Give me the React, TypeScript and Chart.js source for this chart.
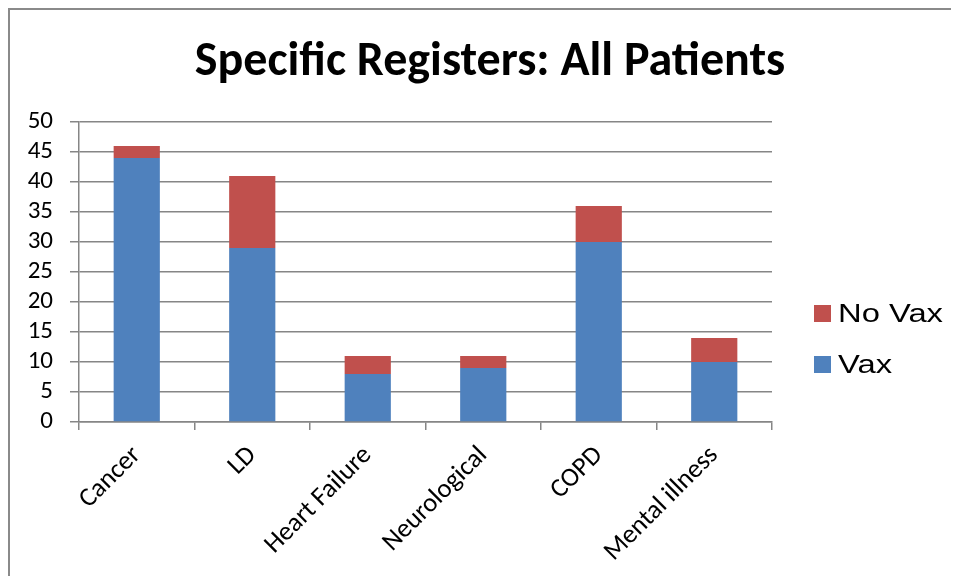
import React, { useEffect, useRef } from "react";
import { Chart, registerables } from "chart.js";

Chart.register(...registerables);

const categories = ["Cancer", "LD", "Heart Failure", "Neurological", "COPD", "Mental illness"];
const vaxValues = [44, 29, 8, 9, 30, 10];
const noVaxValues = [2, 12, 3, 2, 6, 4];
const titleText = "Specific Registers: All Patients";
const yMin = 0;
const yMax = 50;
const yStep = 5;

const CAL = "Carlito, Lato, 'Open Sans', sans-serif";

const sideTitle = {
  id: "sideTitle",
  afterDraw(chart: any) {
    const ctx = chart.ctx;
    ctx.save();
    ctx.fillStyle = "#000";
    ctx.font = `bold 48px ${CAL}`;
    ctx.textAlign = "center";
    ctx.textBaseline = "alphabetic";
    ctx.fillText(titleText, chart.width / 2, 65);
    ctx.restore();
  },
};

const sideLegend = {
  id: "sideLegend",
  afterDraw(chart: any) {
    const ctx = chart.ctx;
    const area = chart.chartArea;
    const items = chart.data.datasets.slice().reverse();
    const x0 = area.right + 42;
    let y0 = 295;
    ctx.save();
    items.forEach((ds: any) => {
      ctx.fillStyle = ds.backgroundColor;
      ctx.fillRect(x0, y0, 17, 17);
      ctx.save();
      ctx.translate(x0 + 24, y0 + 9);
      ctx.scale(1.26, 1);
      ctx.fillStyle = "#000";
      ctx.font = "26px 'Liberation Sans', Arial, sans-serif";
      ctx.textBaseline = "middle";
      ctx.textAlign = "left";
      ctx.fillText(ds.label, 0, 1);
      ctx.restore();
      y0 += 51;
    });
    ctx.restore();
  },
};

export default function App() {
  const ref = useRef<HTMLCanvasElement>(null);
  useEffect(() => {
    if (!ref.current) return;
    const chart = new Chart(ref.current, {
      type: "bar",
      data: {
        labels: categories,
        datasets: [
          { label: "Vax", data: vaxValues, backgroundColor: "#4F81BD", borderWidth: 0 },
          { label: "No Vax", data: noVaxValues, backgroundColor: "#C0504D", borderWidth: 0 },
        ],
      },
      options: {
        responsive: false,
        animation: false,
        devicePixelRatio: 1,
        layout: { padding: { left: 0, right: 198, top: 112, bottom: 0 } },
        datasets: { bar: { categoryPercentage: 1, barPercentage: 0.4 } } as any,
        plugins: {
          legend: { display: false },
          tooltip: { enabled: false },
          title: { display: false },
        },
        scales: {
          x: {
            stacked: true,
            afterFit(scale: any) {
              scale.paddingLeft = 0;
              scale.paddingRight = 0;
              scale.height = 154;
            },
            grid: {
              display: true,
              drawOnChartArea: false,
              drawTicks: true,
              tickLength: 8,
              color: "#868686",
              lineWidth: 1.5,
              offset: true,
            },
            border: { display: true, color: "#868686", width: 1.5 },
            ticks: {
              color: "#000",
              font: { family: CAL, size: 26.5 },
              maxRotation: 45,
              minRotation: 45,
              padding: 10,
              autoSkip: false,
            },
          },
          y: {
            stacked: true,
            min: yMin,
            max: yMax,
            afterFit(scale: any) {
              scale.width = 69;
            },
            grid: { color: "#868686", lineWidth: 1.5, tickLength: 9, drawTicks: true },
            border: { display: true, color: "#868686", width: 1.5 },
            ticks: {
              stepSize: yStep,
              autoSkip: false,
              color: "#000",
              font: { family: CAL, size: 25 },
              padding: 17,
            },
          },
        },
      },
      plugins: [sideTitle, sideLegend],
    });
    return () => chart.destroy();
  }, []);
  return (
    <div
      style={{
        position: "relative",
        width: 949,
        height: 566,
        borderTop: "2px solid #8a8a8a",
        borderLeft: "2px solid #8a8a8a",
        overflow: "hidden",
        background: "#fff",
      }}
    >
      <canvas ref={ref} width={960} height={566} style={{ display: "block" }} />
    </div>
  );
}
